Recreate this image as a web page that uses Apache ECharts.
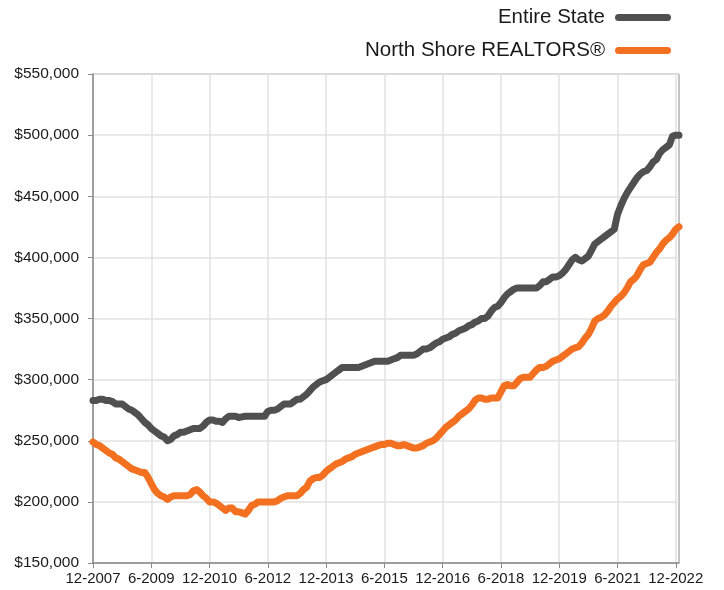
<!DOCTYPE html>
<html>
<head>
<meta charset="utf-8">
<script src="https://cdn.jsdelivr.net/npm/echarts@6/dist/echarts.min.js"></script>
<style>
  html, body { margin: 0; padding: 0; background: #fff; }
  #chart { width: 724px; height: 590px; }
</style>
</head>
<body>
<div id="chart"></div>
<script>
// monthly, 12-2007 .. 1-2023 (values in $1,000)
var startYear = 2007
var startMonth = 12
var entireState = [
  283, 283, 284, 284, 283, 283, 282, 280, 280, 280, 278, 276, 275, 273, 271, 268, 265, 263, 260, 258,
  256, 254, 253, 250, 251, 254, 255, 257, 257, 258, 259, 260, 260, 260, 262, 265, 267, 267, 266, 266,
  265, 268, 270, 270, 270, 269, 269.5, 270, 270, 270, 270, 270, 270, 270, 274, 275, 275, 276, 278, 280,
  280, 280, 282, 284, 284, 286, 288, 291, 294, 296, 298, 299, 300, 302, 304, 306, 308, 310, 310, 310,
  310, 310, 310, 311, 312, 313, 314, 315, 315, 315, 315, 315, 316, 317, 318, 320, 320, 320, 320, 320,
  321, 323, 325, 325, 326, 328, 330, 331, 333, 334, 335, 337, 338, 340, 341, 342, 344, 345, 347, 348,
  350, 350, 352, 356, 359, 360, 363, 367, 370, 372, 374, 375, 375, 375, 375, 375, 375, 375, 377, 380,
  380, 382, 384, 384, 385, 387, 390, 394, 398, 400, 398, 397, 399, 401, 406, 411, 413, 415, 417, 419,
  421, 423, 435, 442, 448, 453, 457, 461, 465, 468, 470, 471, 474, 478, 480, 485, 488, 490, 492, 499,
  500, 500
]
var northShore = [
  249, 247, 246, 244, 242, 240, 239, 236, 235, 233, 231, 229, 227, 226, 225, 224, 224, 220, 215, 210,
  207, 205, 204, 202, 204, 205, 205, 205, 205, 205, 206, 209, 210, 208, 205, 203, 200, 200, 199, 197,
  195, 193, 195, 195, 192, 192, 191, 190, 193, 197, 198, 200, 200, 200, 200, 200, 200, 201, 203, 204,
  205, 205, 205, 205, 207, 210, 212, 217, 219, 220, 220, 222, 225, 227, 229, 231, 232, 233, 235, 236,
  237, 239, 240, 241, 242, 243, 244, 245, 246, 247, 247, 248, 248, 247, 246, 246, 247, 246, 245, 244,
  244, 245, 246, 248, 249, 250, 252, 255, 258, 261, 263, 265, 267, 270, 272, 274, 276, 279, 283, 285,
  285, 284, 284, 285, 285, 285, 290, 295, 296, 295, 295, 298, 301, 302, 302, 302, 305, 308, 310, 310,
  311, 313, 315, 316, 317, 319, 321, 323, 325, 326, 327, 330, 334, 337, 342, 348, 350, 351, 353, 356,
  360, 363, 366, 368, 371, 375, 380, 382, 385, 390, 394, 395, 396, 400, 404, 407, 411, 414, 416, 419,
  423, 425
]
var seriesNames = ['Entire State', 'North Shore REALTORS®']
var seriesColors = ['#505050', '#f37021']

var categories = []
var y = startYear
var m = startMonth
for (var i = 0; i < entireState.length; i++) {
  categories.push(m + '-' + y)
  m++
  if (m > 12) { m = 1; y++ }
}

var font = 'Liberation Sans, Arial, Helvetica, sans-serif'
var chart = echarts.init(document.getElementById('chart'))

function money (v) {
  return '$' + echarts.format.addCommas(v * 1000)
}

chart.setOption({
  animation: false,
  textStyle: { fontFamily: font },
  legend: {
    orient: 'vertical',
    align: 'right',
    right: 48,
    top: 2,
    itemGap: 12,
    itemWidth: 56,
    itemHeight: 7,
    icon: 'path://M3.5,0 H52.5 A3.5,3.5 0 0 1 52.5,7 H3.5 A3.5,3.5 0 0 1 3.5,0 Z',
    textStyle: { fontSize: 20.5, color: '#1a1a1a', lineHeight: 21, padding: [0, 5, 0, 0] },
    data: seriesNames
  },
  grid: {
    left: 93,
    right: 45,
    top: 74,
    bottom: 27,
    show: true,
    borderColor: '#8a8a8a',
    borderWidth: 1
  },
  xAxis: {
    type: 'category',
    boundaryGap: false,
    data: categories,
    axisLine: { lineStyle: { color: '#8a8a8a', width: 1.5 } },
    axisTick: { interval: 17, length: 5, lineStyle: { color: '#8a8a8a' } },
    axisLabel: { interval: 17, fontSize: 15, color: '#1a1a1a', margin: 8 },
    splitLine: { show: true, interval: 17, lineStyle: { color: '#e2e2e2', width: 1.5 } }
  },
  yAxis: {
    type: 'value',
    min: 150,
    max: 550,
    interval: 50,
    axisLine: { show: true, lineStyle: { color: '#8a8a8a', width: 1.5 } },
    axisTick: { show: true, length: 5, lineStyle: { color: '#8a8a8a' } },
    axisLabel: { fontSize: 15.5, color: '#1a1a1a', margin: 14, formatter: money },
    splitLine: { lineStyle: { color: '#e2e2e2', width: 1.5 } }
  },
  series: [
    {
      name: seriesNames[0],
      type: 'line',
      data: entireState,
      symbol: 'none',
      color: seriesColors[0],
      lineStyle: { width: 7, cap: 'round', join: 'round' }
    },
    {
      name: seriesNames[1],
      type: 'line',
      data: northShore,
      symbol: 'none',
      color: seriesColors[1],
      lineStyle: { width: 7, cap: 'round', join: 'round' }
    }
  ]
})
</script>
</body>
</html>
